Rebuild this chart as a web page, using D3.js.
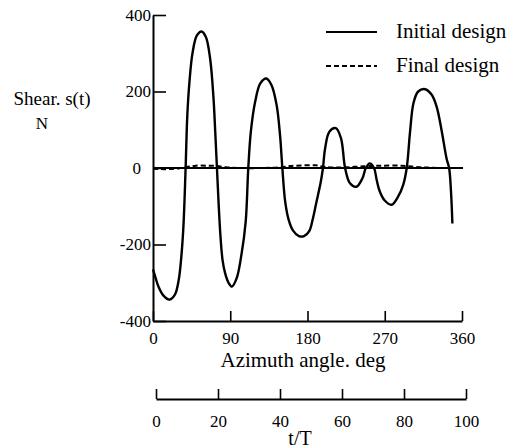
<!DOCTYPE html>
<html>
<head>
<meta charset="utf-8">
<script src="https://d3js.org/d3.v7.min.js"></script>
<style>
  body { margin: 0; background: #fff; }
  text { font-family: "Liberation Serif", "Times New Roman", serif; fill: #000; }
</style>
</head>
<body>
<script>
// Shear s(t), azimuth angle in degrees
var initialAngle = [0, 3, 6, 12, 19, 25.5, 30, 33, 35.5, 38, 40, 42.5, 46, 51, 56.5, 61.5, 66.5, 70.5, 72.5, 74.5,
  76.5, 78.5, 81, 84, 88, 92, 97.5, 103, 108, 111, 114, 119, 125, 132, 138, 144, 148, 150.7, 154, 158, 163, 170, 176,
  182, 186, 190.5, 195.5, 198, 200.5, 205.5, 213, 219, 223.8, 229.5, 237, 244, 248, 252.5, 257.5, 260.5, 264, 270,
  278, 285.5, 291.5, 295.6, 299.5, 303.5, 309, 317, 324.5, 330.5, 336.5, 342, 345, 347.2, 348.8];
var initialShear = [-265, -287, -308, -333, -344, -331, -292, -232, -150, 0, 139, 226, 300, 346, 357, 343, 287, 182, 95, 0,
  -95, -175, -240, -275, -300, -310, -288, -227, -140, 0, 95, 173, 221, 234, 217, 165, 86, 0, -88, -135, -163, -178, -178,
  -165, -135, -88, -36, 0, 51, 95, 104, 78, 0, -40, -49, -27, 0, 12, 0, -30, -60, -85,
  -96, -75, -44, 0, 95, 170, 200, 206, 192, 160, 95, 25, 0, -62, -145];

var finalAngle = [0, 15, 30, 40, 50, 65, 75, 85, 100, 130, 150, 160, 175, 190, 200, 215, 235, 250, 265, 290, 305, 320, 340, 360];
var finalShear = [-2, -3, -1, 3, 6, 6, 5, 2, 0, 0, 2, 5, 7, 7, 3, 1, 3, 5, 6, 6, 3, 1, 0, 0];

var yTicks = [-400, -200, 0, 200, 400];
var xTicks = [0, 90, 180, 270, 360];
var tTicks = [0, 20, 40, 60, 80, 100];

var seriesNames = ["Initial design", "Final design"];

var width = 521, height = 448;

var svg = d3.select("body").append("svg")
    .attr("width", width)
    .attr("height", height);

// scales
var x = d3.scaleLinear().domain([0, 360]).range([153, 462]);
var y = d3.scaleLinear().domain([-400, 400]).range([321, 15]);
var t = d3.scaleLinear().domain([0, 100]).range([156, 466]);

// plain hyphen minus like the scan
var fmt = function(d) { return String(d); };

// zero reference line
svg.append("line")
    .attr("x1", x(0)).attr("x2", x(360) + 1)
    .attr("y1", y(0)).attr("y2", y(0))
    .attr("stroke", "#000")
    .attr("stroke-width", 2);

// y axis, ticks pointing inwards
var yAxis = svg.append("g")
    .attr("transform", "translate(" + x(0) + ",0)")
    .call(d3.axisLeft(y).tickValues(yTicks).tickFormat(fmt).tickSizeInner(-13).tickSizeOuter(0).tickPadding(2));

// the scanned "0" sits further left than the others
yAxis.selectAll(".tick text")
    .filter(function(d) { return d === 0; })
    .attr("x", -12);

// x axis (azimuth)
var xAxis = svg.append("g")
    .attr("transform", "translate(0," + y(-400) + ")")
    .call(d3.axisBottom(x).tickValues(xTicks).tickFormat(fmt).tickSizeInner(-10).tickSizeOuter(0).tickPadding(11));

// second axis (t/T)
var tAxis = svg.append("g")
    .attr("transform", "translate(0,399)")
    .call(d3.axisBottom(t).tickValues(tTicks).tickFormat(fmt).tickSizeInner(-10).tickSizeOuter(0).tickPadding(16));

[yAxis, xAxis, tAxis].forEach(function(g) {
  g.attr("font-family", "Liberation Serif").attr("font-size", 17);
  g.select(".domain").attr("stroke-width", 2);
  g.selectAll(".tick line").attr("stroke-width", 1.6);
  g.selectAll(".tick text")
      .style("font-family", "'Liberation Serif', serif")
      .style("font-size", "17px");
});

// curves
var line = d3.line()
    .x(function(d) { return x(d[0]); })
    .y(function(d) { return y(d[1]); })
    .curve(d3.curveCatmullRom.alpha(0.5));

svg.append("path")
    .datum(d3.zip(initialAngle, initialShear))
    .attr("d", line)
    .attr("fill", "none")
    .attr("stroke", "#000")
    .attr("stroke-width", 2.4);

svg.append("path")
    .datum(d3.zip(finalAngle, finalShear))
    .attr("d", line)
    .attr("fill", "none")
    .attr("stroke", "#000")
    .attr("stroke-width", 2)
    .attr("stroke-dasharray", "5,3");

// axis titles
svg.append("text")
    .attr("x", 52).attr("y", 105)
    .attr("text-anchor", "middle")
    .style("font-size", "19px")
    .text("Shear. s(t)");

svg.append("text")
    .attr("x", 42).attr("y", 129)
    .attr("text-anchor", "middle")
    .style("font-size", "17px")
    .text("N");

svg.append("text")
    .attr("x", 303).attr("y", 367)
    .attr("text-anchor", "middle")
    .style("font-size", "21px")
    .text("Azimuth angle. deg");

svg.append("text")
    .attr("x", 300).attr("y", 445)
    .attr("text-anchor", "middle")
    .style("font-size", "20px")
    .text("t/T");

// legend
var legend = svg.append("g");
seriesNames.forEach(function(name, i) {
  var ly = 32 + i * 34;
  legend.append("line")
      .attr("x1", 326).attr("x2", 377)
      .attr("y1", ly).attr("y2", ly)
      .attr("stroke", "#000")
      .attr("stroke-width", 2)
      .attr("stroke-dasharray", i === 1 ? "5,3" : null);
  legend.append("text")
      .attr("x", 396).attr("y", ly + 6)
      .style("font-size", "21px")
      .text(name);
});
</script>
</body>
</html>
